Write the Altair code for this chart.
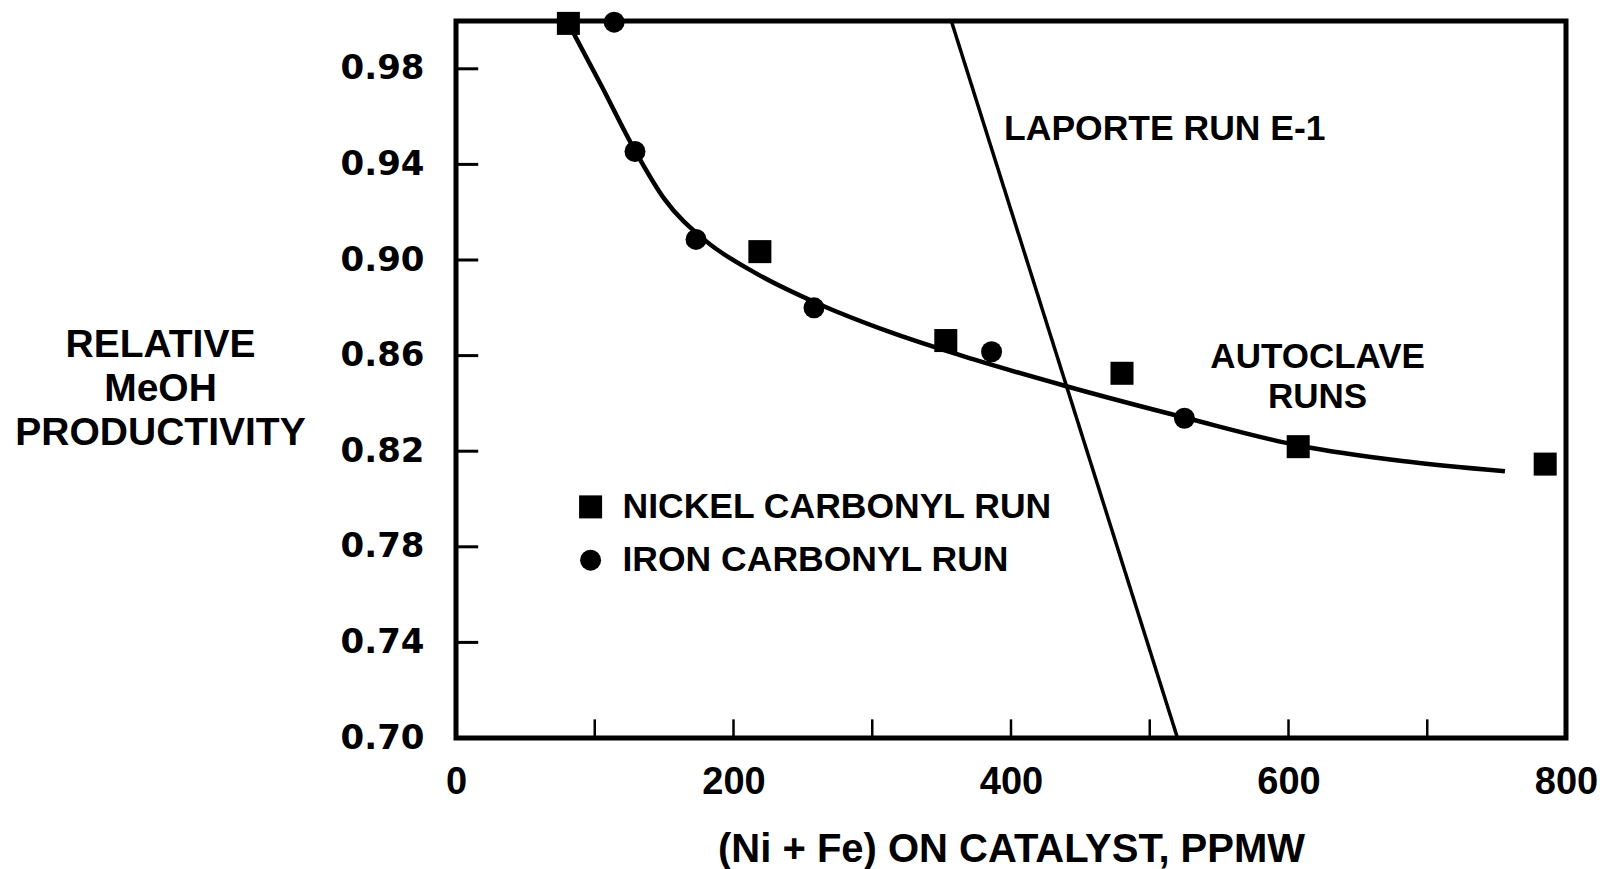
import altair as alt
import pandas as pd

# ---- data ----
nickel_x = [81, 219, 353, 480, 607, 785]
nickel_y = [0.999, 0.9035, 0.8663, 0.8526, 0.8219, 0.8146]
iron_x = [114, 129, 173, 258, 386, 525]
iron_y = [0.9995, 0.9454, 0.9086, 0.880, 0.8616, 0.8338]
curve_x = [81, 105, 129, 150, 180, 216, 261, 312, 372, 438, 527, 608, 682, 756]
curve_y = [0.999, 0.9727, 0.9458, 0.9257, 0.908, 0.8945, 0.8817, 0.870,
           0.8586, 0.8475, 0.8338, 0.8223, 0.8159, 0.8116]
laporte_x = [357, 520]
laporte_y = [1.0, 0.70]
x_tick_labels = [0, 200, 400, 600, 800]
y_tick_labels = [0.70, 0.74, 0.78, 0.82, 0.86, 0.90, 0.94, 0.98]
x_minor = [100, 200, 300, 400, 500, 600, 700]
y_minor = [0.74, 0.78, 0.82, 0.86, 0.90, 0.94, 0.98]

annot_text = ["LAPORTE RUN E-1", "AUTOCLAVE", "RUNS"]
annot_x = [395, 621, 621]
annot_y = [0.9548, 0.8594, 0.8426]
annot_align = ["left", "center", "center"]

legend_labels = ["NICKEL CARBONYL RUN", "IRON CARBONYL RUN"]
legend_x = [97, 97]
legend_text_x = [120, 120]
legend_y = [0.7967, 0.7744]

FONT = "Liberation Sans"

xs = alt.Scale(domain=[0, 800], nice=False, zero=False)
ys = alt.Scale(domain=[0.70, 1.00], nice=False, zero=False)

nickel = pd.DataFrame({"x": nickel_x, "y": nickel_y})
iron = pd.DataFrame({"x": iron_x, "y": iron_y})
curve = pd.DataFrame({"x": curve_x, "y": curve_y})
lap = pd.DataFrame({"x": laporte_x, "y": laporte_y})

base_x = alt.X("x:Q", scale=xs, axis=alt.Axis(
    values=x_tick_labels, title="(Ni + Fe) ON CATALYST, PPMW",
    labelFont=FONT, labelFontSize=38, labelFontWeight="bold", labelColor="black",
    labelPadding=25, labelFlush=False, labelOverlap=False,
    titleFont=FONT, titleFontSize=40, titleFontWeight="bold", titleColor="black",
    titleBaseline="alphabetic", titleY=123))
base_y = alt.Y("y:Q", scale=ys, axis=alt.Axis(
    values=y_tick_labels, format=".2f",
    title=["RELATIVE", "MeOH", "PRODUCTIVITY"],
    labelFont="DejaVu Sans", labelFontSize=34, labelFontWeight="bold", labelColor="black",
    labelPadding=32, labelOverlap=False,
    titleFont=FONT, titleFontSize=39, titleFontWeight="bold", titleColor="black",
    titleAngle=0, titleAlign="center", titleBaseline="middle",
    titleX=-296, titleY=323, titleLineHeight=44))

curve_layer = alt.Chart(curve).mark_line(color="black", strokeWidth=4.5, interpolate="monotone").encode(
    x=base_x, y=base_y)
lap_layer = alt.Chart(lap).mark_line(color="black", strokeWidth=3.5).encode(
    x=alt.X("x:Q", scale=xs), y=alt.Y("y:Q", scale=ys))
sq_layer = alt.Chart(nickel).mark_point(shape="square", filled=True, color="black", size=530, opacity=1).encode(
    x=alt.X("x:Q", scale=xs), y=alt.Y("y:Q", scale=ys))
ci_layer = alt.Chart(iron).mark_point(shape="circle", filled=True, color="black", size=440, opacity=1).encode(
    x=alt.X("x:Q", scale=xs), y=alt.Y("y:Q", scale=ys))

# inward ticks
xt = pd.DataFrame({"x": x_minor, "y": [0.70] * len(x_minor), "y2": [0.7078] * len(x_minor)})
yt = pd.DataFrame({"y": y_minor, "x": [0] * len(y_minor), "x2": [16] * len(y_minor)})
xt_layer = alt.Chart(xt).mark_rule(color="black", strokeWidth=2.5).encode(
    x=alt.X("x:Q", scale=xs), y=alt.Y("y:Q", scale=ys), y2="y2:Q")
yt_layer = alt.Chart(yt).mark_rule(color="black", strokeWidth=3).encode(
    x=alt.X("x:Q", scale=xs), x2="x2:Q", y=alt.Y("y:Q", scale=ys))

ann = pd.DataFrame({"t": annot_text, "x": annot_x, "y": annot_y, "a": annot_align})
ann_left = alt.Chart(ann[ann.a == "left"]).mark_text(
    font=FONT, fontSize=35.5, fontWeight="bold", color="black", align="left", baseline="middle").encode(
    x=alt.X("x:Q", scale=xs), y=alt.Y("y:Q", scale=ys), text="t:N")
ann_center = alt.Chart(ann[ann.a == "center"]).mark_text(
    font=FONT, fontSize=35, fontWeight="bold", color="black", align="center", baseline="middle").encode(
    x=alt.X("x:Q", scale=xs), y=alt.Y("y:Q", scale=ys), text="t:N")

leg = pd.DataFrame({"t": legend_labels, "mx": legend_x, "tx": legend_text_x, "y": legend_y})
leg_sq = alt.Chart(leg.iloc[[0]]).mark_point(shape="square", filled=True, color="black", size=530, opacity=1).encode(
    x=alt.X("mx:Q", scale=xs), y=alt.Y("y:Q", scale=ys))
leg_ci = alt.Chart(leg.iloc[[1]]).mark_point(shape="circle", filled=True, color="black", size=440, opacity=1).encode(
    x=alt.X("mx:Q", scale=xs), y=alt.Y("y:Q", scale=ys))
leg_txt = alt.Chart(leg).mark_text(
    font=FONT, fontSize=35.5, fontWeight="bold", color="black", align="left", baseline="middle").encode(
    x=alt.X("tx:Q", scale=xs), y=alt.Y("y:Q", scale=ys), text="t:N")

chart = alt.layer(
    curve_layer, lap_layer, sq_layer, ci_layer, xt_layer, yt_layer,
    ann_left, ann_center, leg_sq, leg_ci, leg_txt
).properties(
    width=1110, height=717,
    autosize=alt.AutoSizeParams(type="none"),
    padding={"left": 456, "top": 21, "right": 34, "bottom": 131},
    background="white",
).configure_view(
    stroke="black", strokeWidth=5
).configure_axis(
    domain=False, grid=False, ticks=False
)

chart.save("out.html", embed_options={"renderer": "svg", "actions": False})
